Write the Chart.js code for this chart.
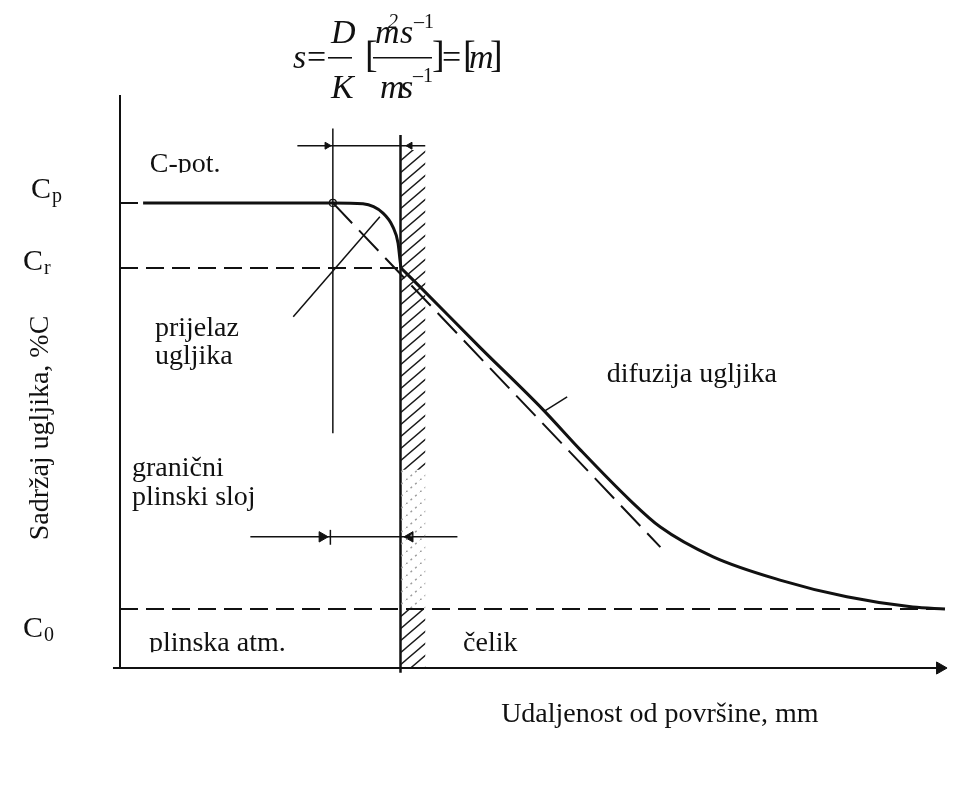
<!DOCTYPE html>
<html>
<head>
<meta charset="utf-8">
<script src="https://cdn.jsdelivr.net/npm/chart.js@4.4.0/dist/chart.umd.min.js"></script>
<style>
  html, body { margin: 0; padding: 0; background: #fff; }
  #grafik { display: block; }
</style>
</head>
<body>
<canvas id="grafik" width="953" height="787"></canvas>
<script>
// razine ugljika (relativno, Cp = 1)
var Cp = 1.0;
var Cr = 0.86;
var C0 = 0.127;

// x: udaljenost od povrsine (povrsina je u 0, lijevo plin), y: sadrzaj ugljika
var krivuljaPlinX = [-3.12, -0.82, -0.455, -0.212, -0.091, -0.030, -0.006, 0.006];
var krivuljaPlinY = [1.0, 1.0, 0.998, 0.978, 0.948, 0.914, 0.877, 0.860];
var krivuljaCelikX = [0.006, 0.24, 0.96, 1.73, 2.18, 2.78, 3.15, 3.79, 4.60, 5.41, 6.21, 6.60];
var krivuljaCelikY = [0.860, 0.819, 0.690, 0.555, 0.469, 0.361, 0.303, 0.239, 0.189, 0.153, 0.131, 0.127];

// tangenta (crtkano)
var tangentaX = [-0.82, 3.15];
var tangentaY = [1.0, 0.26];

// oznake na osi y
var tickVrijednosti = [Cp, Cr, C0];
var tickOznake = ['C', 'C', 'C'];
var tickIndeksi = ['p', 'r', '0'];

var xMin = -3.4, xMax = 6.6, yMax = 1.232;

function tocke(xs, ys) {
    return xs.map(function (x, i) { return { x: x, y: ys[i] }; });
}

function srafura(boja, crtice) {
    var c = document.createElement('canvas');
    c.width = 14; c.height = 12;
    var g = c.getContext('2d');
    g.strokeStyle = boja;
    g.lineWidth = 1.4;
    g.setLineDash(crtice || []);
    g.beginPath();
    g.moveTo(0, 12); g.lineTo(14, 0);
    g.moveTo(-4, 3.4); g.lineTo(4, -3.4);
    g.moveTo(10, 15.4); g.lineTo(18, 8.6);
    g.stroke();
    return g.createPattern(c, 'repeat');
}

function linija(data, sirina, crtice) {
    return {
        data: data,
        showLine: true,
        borderColor: '#111',
        borderWidth: sirina,
        borderDash: crtice || [],
        pointRadius: 0,
        fill: false,
        clip: false
    };
}

function pravokutnik(y1, y2, uzorak) {
    return {
        data: [{ x: 0, y: y1 }, { x: 0.30, y: y1 }, { x: 0.30, y: y2 }, { x: 0, y: y2 }],
        showLine: true, borderWidth: 0, pointRadius: 0, fill: 'shape', backgroundColor: uzorak
    };
}

var datasets = [
    // osi
    linija([{ x: xMin, y: 0 }, { x: xMin, y: yMax }], 2),
    linija([{ x: -3.485, y: 0 }, { x: xMax, y: 0 }], 2),
    // crtkane razine
    linija([{ x: xMin, y: Cp }, { x: -0.82, y: Cp }], 2, [18, 8]),
    linija([{ x: xMin, y: Cr }, { x: 0, y: Cr }], 2, [18, 8]),
    linija([{ x: xMin, y: C0 }, { x: xMax, y: C0 }], 2, [18, 8]),
    linija(tocke(tangentaX, tangentaY), 2, [28, 10]),
    // srafura uz povrsinu celika
    pravokutnik(1.114, 0.426, srafura('#1a1a1a')),
    pravokutnik(0.426, 0.125, srafura('#9a9a9a', [2, 4])),
    pravokutnik(0.125, 0, srafura('#1a1a1a')),
    // povrsina
    linija([{ x: 0, y: -0.01 }, { x: 0, y: 1.146 }], 2.5),
    // pomocne linije
    linija([{ x: -0.82, y: 0.505 }, { x: -0.82, y: 1.16 }], 1.5),
    linija([{ x: -1.30, y: 0.755 }, { x: -0.25, y: 0.970 }], 1.5),
    linija([{ x: -1.25, y: 1.123 }, { x: 0.30, y: 1.123 }], 1.5),
    linija([{ x: -1.82, y: 0.282 }, { x: 0.69, y: 0.282 }], 1.5),
    linija([{ x: -0.85, y: 0.265 }, { x: -0.85, y: 0.297 }], 1.5),
    linija([{ x: 1.75, y: 0.553 }, { x: 2.02, y: 0.583 }], 1.5),
    // krivulja sadrzaja ugljika
    Object.assign(linija(tocke(krivuljaPlinX, krivuljaPlinY), 3), { cubicInterpolationMode: 'monotone' }),
    Object.assign(linija(tocke(krivuljaCelikX, krivuljaCelikY), 3), { cubicInterpolationMode: 'monotone' }),
    // strelice
    {
        data: [{ x: -0.89, y: 1.123 }, { x: -0.95, y: 0.282 }, { x: 6.54, y: 0 }],
        showLine: false, pointStyle: 'triangle', rotation: 90,
        pointRadius: [4, 6, 7], backgroundColor: '#111', borderColor: '#111', borderWidth: 1, clip: false
    },
    {
        data: [{ x: 0.115, y: 1.123 }, { x: 0.115, y: 0.282 }],
        showLine: false, pointStyle: 'triangle', rotation: -90,
        pointRadius: [4, 6], backgroundColor: '#111', borderColor: '#111', borderWidth: 1, clip: false
    },
    // kruzic na pocetku prijelaza
    {
        data: [{ x: -0.82, y: Cp }],
        showLine: false, pointStyle: 'circle', pointRadius: 3.5,
        backgroundColor: '#fff', borderColor: '#111', borderWidth: 1.2
    }
];

var natpisi = [
    { t: 'C-pot.', x: -3.04, y: 1.067, rez: true },
    { t: 'prijelaz', x: -2.976, y: 0.714 },
    { t: 'ugljika', x: -2.976, y: 0.654 },
    { t: 'granični', x: -3.255, y: 0.413 },
    { t: 'plinski sloj', x: -3.255, y: 0.351 },
    { t: 'plinska atm.', x: -3.05, y: 0.036, rez: true },
    { t: 'čelik', x: 0.758, y: 0.036, rez: true },
    { t: 'difuzija ugljika', x: 2.50, y: 0.615 },
    { t: 'Udaljenost od površine, mm', x: 1.22, y: -0.116 }
];

var tickLijevo = [-89, -97, -97];
var tickPomak = [-5, 2, 28];

var formula = [
    { t: 's', dx: -35, dy: 10, f: 'italic 34px' },
    { t: '=', dx: -21, dy: 10, f: '34px' },
    { t: 'D', dx: 3, dy: -15, f: 'italic 34px' },
    { t: 'K', dx: 3, dy: 40, f: 'italic 34px' },
    { t: '[', dx: 37, dy: 9, f: '38px' },
    { t: 'm', dx: 47, dy: -15, f: 'italic 34px' },
    { t: '2', dx: 60, dy: -30, f: 'italic 20px' },
    { t: 's', dx: 72, dy: -15, f: 'italic 34px' },
    { t: '–1', dx: 86, dy: -30, f: '20px' },
    { t: 'm', dx: 52, dy: 40, f: 'italic 34px' },
    { t: 's', dx: 72, dy: 40, f: 'italic 34px' },
    { t: '–1', dx: 85, dy: 24, f: '20px' },
    { t: ']', dx: 104, dy: 9, f: '38px' },
    { t: '=', dx: 114, dy: 10, f: '34px' },
    { t: '[', dx: 135, dy: 9, f: '38px' },
    { t: 'm', dx: 141, dy: 10, f: 'italic 34px' },
    { t: ']', dx: 162, dy: 9, f: '38px' }
];
var razlomci = [[0, 24], [45, 104]];
var formulaSidro = { x: -0.879, y: 1.312 };

var FONT = '"Liberation Serif", "Times New Roman", serif';

var natpisiPlugin = {
    id: 'natpisi',
    beforeDraw: function (chart) {
        var ctx = chart.ctx;
        ctx.save();
        ctx.fillStyle = '#fff';
        ctx.fillRect(0, 0, chart.width, chart.height);
        ctx.restore();
    },
    afterDraw: function (chart) {
        var ctx = chart.ctx, sx = chart.scales.x, sy = chart.scales.y;
        var lijevo = chart.chartArea.left;
        ctx.save();
        ctx.fillStyle = '#111';
        ctx.strokeStyle = '#111';
        ctx.textBaseline = 'alphabetic';
        ctx.textAlign = 'left';

        ctx.font = '28px ' + FONT;
        natpisi.forEach(function (n) {
            var px = sx.getPixelForValue(n.x), py = sy.getPixelForValue(n.y);
            ctx.save();
            if (n.rez) {
                ctx.beginPath();
                ctx.rect(px - 5, py - 40, 400, 41);
                ctx.clip();
            }
            ctx.fillText(n.t, px, py);
            ctx.restore();
        });

        // oznake razina na osi y
        tickVrijednosti.forEach(function (v, i) {
            var px = lijevo + tickLijevo[i];
            var py = sy.getPixelForValue(v) + tickPomak[i];
            ctx.font = '30px ' + FONT;
            ctx.fillText(tickOznake[i], px, py);
            var w = ctx.measureText(tickOznake[i]).width;
            ctx.font = '20px ' + FONT;
            ctx.fillText(tickIndeksi[i], px + w + 1, py + 4);
        });

        // naslov osi y
        ctx.save();
        ctx.translate(sx.getPixelForValue(-4.358), sy.getPixelForValue(0.516));
        ctx.rotate(-Math.PI / 2);
        ctx.textAlign = 'center';
        ctx.textBaseline = 'middle';
        ctx.font = '28px ' + FONT;
        ctx.fillText('Sadržaj ugljika, %C', 0, 0);
        ctx.restore();

        // formula
        var ax = sx.getPixelForValue(formulaSidro.x), ay = sy.getPixelForValue(formulaSidro.y);
        formula.forEach(function (d) {
            ctx.font = d.f + ' ' + FONT;
            ctx.fillText(d.t, ax + d.dx, ay + d.dy);
        });
        ctx.lineWidth = 1.6;
        razlomci.forEach(function (r) {
            ctx.beginPath();
            ctx.moveTo(ax + r[0], ay);
            ctx.lineTo(ax + r[1], ay);
            ctx.stroke();
        });
        ctx.restore();
    }
};

var grafik = new Chart(document.getElementById('grafik').getContext('2d'), {
    type: 'scatter',
    data: { datasets: datasets },
    options: {
        responsive: false,
        animation: false,
        devicePixelRatio: 1,
        events: [],
        layout: { padding: { left: 120, right: 8, top: 95, bottom: 119 } },
        scales: {
            x: { type: 'linear', display: false, min: xMin, max: xMax },
            y: { type: 'linear', display: false, min: 0, max: yMax }
        },
        plugins: {
            legend: { display: false },
            tooltip: { enabled: false }
        }
    },
    plugins: [natpisiPlugin]
});
</script>
</body>
</html>
